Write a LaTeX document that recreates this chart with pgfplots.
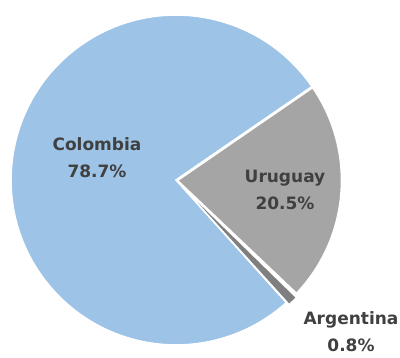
\documentclass[border=0pt]{standalone}
\usepackage{pgfplots}
\pgfplotsset{compat=1.18}
\usepackage{fontspec}
\setmainfont{DejaVu Sans}
\definecolor{colA}{HTML}{9DC3E6}
\definecolor{colU}{HTML}{A5A5A5}
\definecolor{colR}{HTML}{7F7F7F}
\definecolor{txt}{HTML}{404040}
\begin{document}
\begin{tikzpicture}
\begin{axis}[
  width=400pt, height=358pt, scale only axis,
  xmin=0, xmax=400, ymin=0, ymax=358,
  hide axis, clip=false,
]
% slices: Colombia 78.7, Uruguay 20.5, Argentina 0.8 (angles)
\fill[colA, draw=white, line width=1.6pt] (axis cs:176,178) -- ++(34.5:165pt) arc[start angle=34.5, end angle=312, radius=165pt] -- cycle;
\fill[colU, draw=white, line width=1.6pt] (axis cs:177.5,177.5) -- ++(-43.5:164pt) arc[start angle=-43.5, end angle=34.5, radius=164pt] -- cycle;
\fill[colR, draw=white, line width=1.2pt] (axis cs:179,175) -- ++(-47.8:164pt) arc[start angle=-47.8, end angle=-44.3, radius=164pt] -- cycle;
\node[font=\bfseries\fontsize{17}{27}\selectfont, text=txt, align=center, inner sep=0pt] at (axis cs:97,200) {Colombia\\78.7\%};
\node[font=\bfseries\fontsize{17}{27}\selectfont, text=txt, align=center, inner sep=0pt] at (axis cs:285,168) {Uruguay\\20.5\%};
\node[font=\bfseries\fontsize{17}{27}\selectfont, text=txt, align=center, inner sep=0pt] at (axis cs:351,26) {Argentina\\0.8\%};
\end{axis}
\pgfresetboundingbox
\path[use as bounding box] (current axis.south west) rectangle (current axis.north east);
\end{tikzpicture}
\end{document}
